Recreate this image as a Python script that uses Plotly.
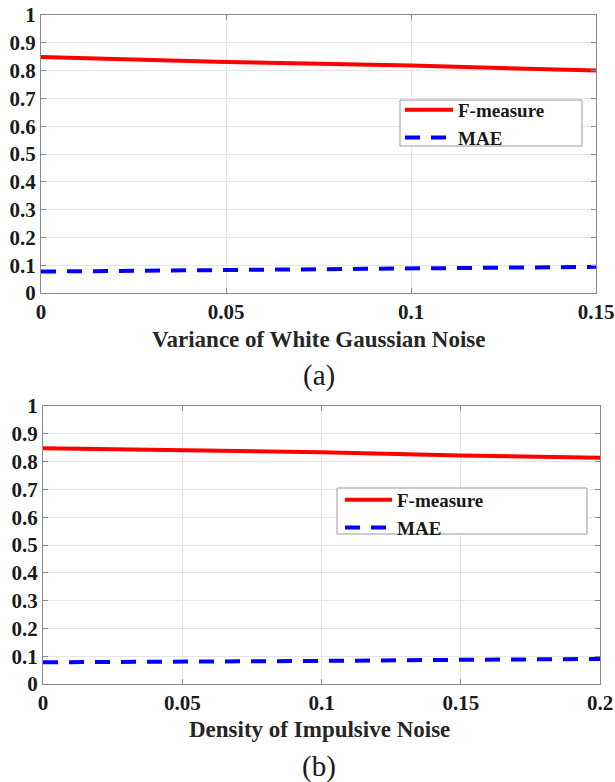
import plotly.graph_objects as go

# (a) White Gaussian noise
var_wgn = [0.0, 0.05, 0.10, 0.15]
fmeasure_wgn = [0.849, 0.831, 0.818, 0.800]
mae_wgn = [0.077, 0.082, 0.087, 0.094]

# (b) Impulsive noise
dens_imp = [0.0, 0.05, 0.10, 0.15, 0.20]
fmeasure_imp = [0.848, 0.842, 0.834, 0.822, 0.814]
mae_imp = [0.078, 0.0795, 0.083, 0.087, 0.090]

y_ticks = [0, 0.1, 0.2, 0.3, 0.4, 0.5, 0.6, 0.7, 0.8, 0.9, 1]
y_ticktext = ["0", "0.1", "0.2", "0.3", "0.4", "0.5", "0.6", "0.7", "0.8", "0.9", "1"]
xa_ticks = [0, 0.05, 0.1, 0.15]
xa_text = ["0", "0.05", "0.1", "0.15"]
xb_ticks = [0, 0.05, 0.1, 0.15, 0.2]
xb_text = ["0", "0.05", "0.1", "0.15", "0.2"]

W, H = 615, 782
FONT = "Liberation Serif"
RED = "#ff0000"
BLUE = "#0000ff"
DASH = "15px,11px"
LW = 4
AXIS_GRAY = "#8a8a8a"
TEXT = "#1a1a1a"


def px_x(p):
    return p / W


def px_y(p):
    return 1 - p / H


fig = go.Figure()

fig.add_trace(go.Scatter(x=var_wgn, y=fmeasure_wgn, mode="lines", name="F-measure",
                         line=dict(color=RED, width=LW), xaxis="x", yaxis="y", legend="legend"))
fig.add_trace(go.Scatter(x=var_wgn, y=mae_wgn, mode="lines", name="MAE",
                         line=dict(color=BLUE, width=LW, dash=DASH), xaxis="x", yaxis="y", legend="legend"))
fig.add_trace(go.Scatter(x=dens_imp, y=fmeasure_imp, mode="lines", name="F-measure",
                         line=dict(color=RED, width=LW), xaxis="x2", yaxis="y2", legend="legend2"))
fig.add_trace(go.Scatter(x=dens_imp, y=mae_imp, mode="lines", name="MAE",
                         line=dict(color=BLUE, width=LW, dash=DASH), xaxis="x2", yaxis="y2", legend="legend2"))

tickfont = dict(family=FONT, size=21, color=TEXT, weight="bold")

common = dict(showline=True, linecolor=AXIS_GRAY, linewidth=1, mirror="ticks",
              ticks="inside", ticklen=5, tickcolor=AXIS_GRAY,
              showgrid=True, gridcolor="#e4e4e4", gridwidth=1,
              zeroline=False, tickfont=tickfont, automargin=False)

legend_style = dict(xanchor="left", yanchor="top", bgcolor="rgba(0,0,0,0)",
                    borderwidth=0, font=dict(family=FONT, size=19, color=TEXT, weight="bold"),
                    tracegroupgap=0)


def label(text, xp, yp, size, bold):
    return dict(text=("<b>%s</b>" % text) if bold else text,
                x=px_x(xp), y=px_y(yp), xref="paper", yref="paper",
                xanchor="center", yanchor="middle", showarrow=False,
                font=dict(family=FONT, size=size, color="#262626" if bold else TEXT))


# Top panel: x 41..596, y 15..293 ; bottom panel: x 43..600, y 406..684 (pixels)
fig.update_layout(
    width=W, height=H,
    margin=dict(l=0, r=0, t=0, b=0),
    paper_bgcolor="white", plot_bgcolor="white",
    xaxis=dict(domain=[px_x(41), px_x(596)], range=[0, 0.15], anchor="y",
               tickvals=xa_ticks, ticktext=xa_text, **common),
    yaxis=dict(domain=[px_y(293), px_y(15)], range=[0, 1], anchor="x",
               tickvals=y_ticks, ticktext=y_ticktext, **common),
    xaxis2=dict(domain=[px_x(43), px_x(600)], range=[0, 0.2], anchor="y2",
                tickvals=xb_ticks, ticktext=xb_text, **common),
    yaxis2=dict(domain=[px_y(684), px_y(406)], range=[0, 1], anchor="x2",
                tickvals=y_ticks, ticktext=y_ticktext, **common),
    legend=dict(x=px_x(400), y=px_y(91), itemwidth=48, **legend_style),
    legend2=dict(x=px_x(340), y=px_y(481), itemwidth=47, **legend_style),
    shapes=[
        dict(type="rect", xref="paper", yref="paper", layer="above",
             x0=px_x(400), x1=px_x(582), y0=px_y(146), y1=px_y(100),
             line=dict(color="#9a9a9a", width=1), fillcolor="white"),
        dict(type="rect", xref="paper", yref="paper", layer="above",
             x0=px_x(337), x1=px_x(587), y0=px_y(534), y1=px_y(488),
             line=dict(color="#9a9a9a", width=1), fillcolor="white"),
    ],
    annotations=[
        label("Variance of White Gaussian Noise", 319, 340, 23, True),
        label("(a)", 319, 375, 29, False),
        label("Density of Impulsive Noise", 319, 729, 23, True),
        label("(b)", 319, 766, 29, False),
    ],
)

fig.write_html("out.html")
